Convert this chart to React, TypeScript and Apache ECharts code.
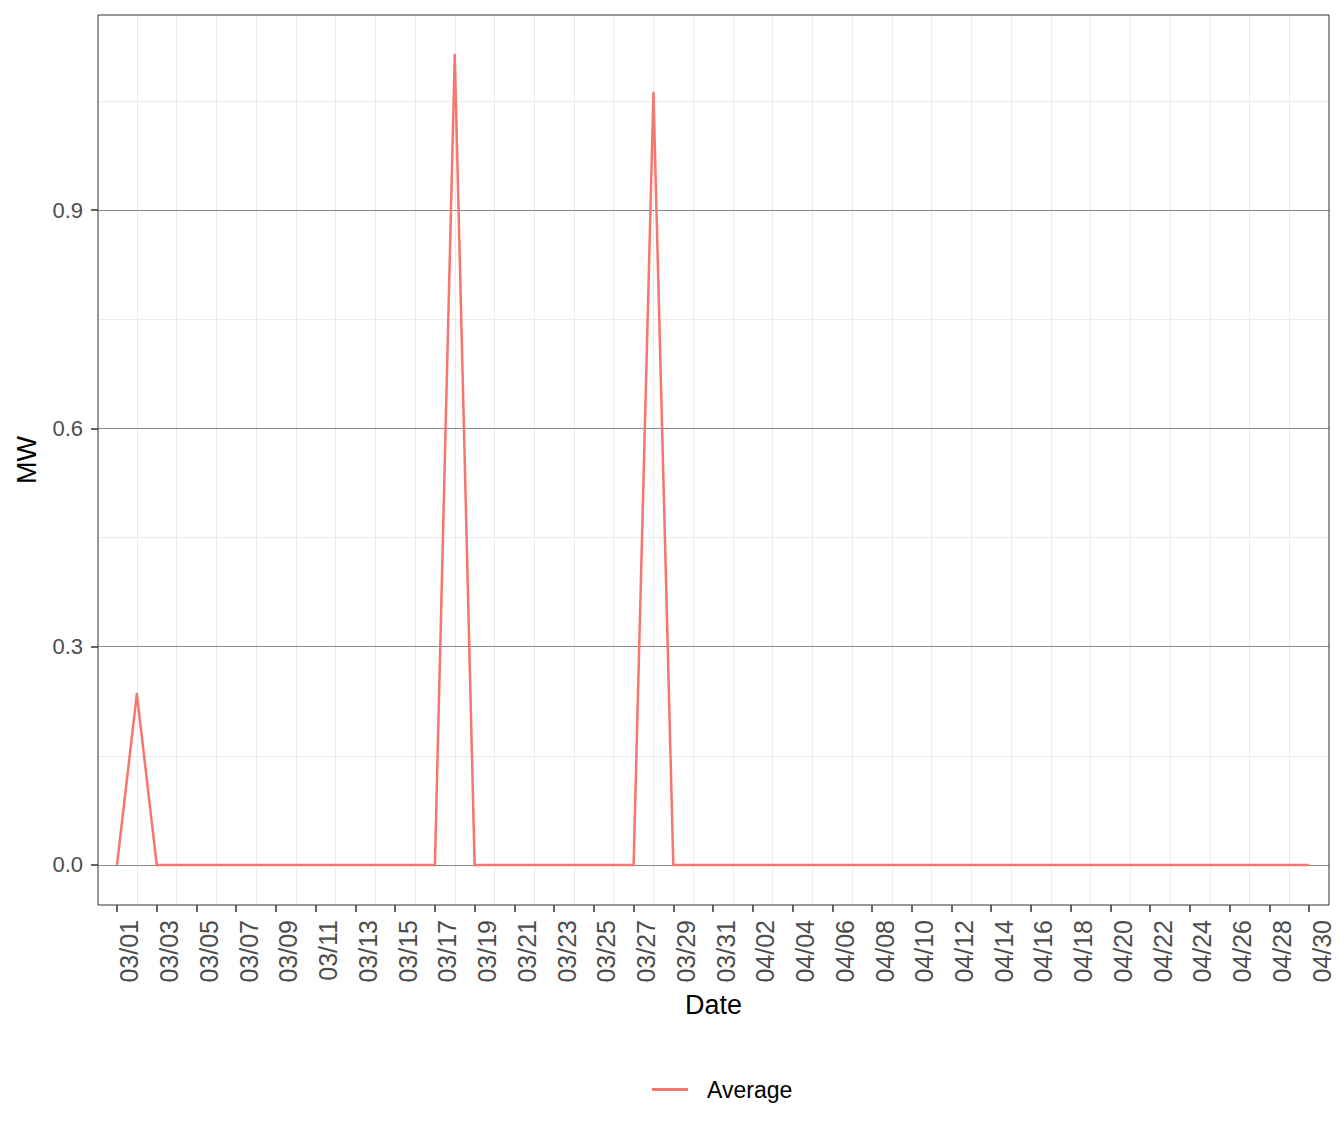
import React, { useEffect, useRef } from "react";
import * as echarts from "echarts";

const pad2 = (n: number) => (n < 10 ? "0" + n : "" + n);
// Date labels, 03/01 .. 04/30
const dates: string[] = [];
for (let d = 1; d <= 31; d++) dates.push("03/" + pad2(d));
for (let d = 1; d <= 30; d++) dates.push("04/" + pad2(d));

// Average MW per day (index into dates)
const average: number[] = [
  0, 0.235, 0, 0, 0, 0, 0, 0, 0, 0, 0, 0, 0, 0, 0, 0, 0,
  1.113, 0, 0, 0, 0, 0, 0, 0, 0, 0,
  1.061, 0, 0, 0, 0, 0, 0, 0, 0, 0, 0, 0, 0, 0, 0, 0, 0, 0, 0, 0, 0, 0, 0, 0, 0, 0, 0, 0, 0, 0, 0, 0, 0, 0,
];

const seriesName = "Average";
const yTicks: number[] = [0, 0.3, 0.6, 0.9];
const yMinorGrid: number[] = [0.15, 0.45, 0.75, 1.05];
const xTicks: number[] = [];
for (let i = 0; i <= 60; i += 2) xTicks.push(i);
const xMinorGrid: number[] = [];
for (let i = 1; i < 60; i += 2) xMinorGrid.push(i);

const FONT = "Liberation Sans, Arial, Helvetica, sans-serif";

export default function App() {
  const ref = useRef<HTMLDivElement>(null);
  useEffect(() => {
    if (!ref.current) return;
    const chart = echarts.init(ref.current, null, { renderer: "svg" });
    const seriesData = average.map((v, i) => [i, v]);
    chart.setOption({
      animation: false,
      backgroundColor: "#ffffff",
      textStyle: { fontFamily: FONT },
      grid: {
        left: 98,
        top: 15,
        right: 15,
        bottom: 237,
        show: true,
        borderColor: "#333333",
        borderWidth: 1,
        backgroundColor: "transparent",
        z: 10,
      },
      legend: {
        data: [{ name: seriesName, icon: "rect" }],
        left: 647,
        top: 1073,
        itemWidth: 36,
        itemHeight: 3,
        textStyle: {
          fontFamily: FONT,
          fontSize: 23,
          color: "#000000",
          padding: [0, 0, 0, 14],
        },
      },
      xAxis: {
        type: "value",
        min: -0.956,
        max: 61.0,
        name: "Date",
        nameLocation: "middle",
        nameGap: 86,
        nameTextStyle: { fontFamily: FONT, fontSize: 27, color: "#000000" },
        axisLine: { show: false, onZero: false },
        axisTick: {
          show: true,
          inside: false,
          length: 7,
          customValues: xTicks,
          lineStyle: { color: "#333333", width: 1.5 },
        },
        axisLabel: {
          show: true,
          customValues: xTicks,
          rotate: 90,
          margin: 15,
          fontFamily: FONT,
          fontSize: 25,
          color: "#4D4D4D",
          verticalAlign: "top",
          formatter: (v: number) => dates[Math.round(v)] ?? "",
        },
        splitLine: { show: false },
      },
      yAxis: {
        type: "value",
        min: -0.055,
        max: 1.168,
        name: "MW",
        nameLocation: "middle",
        nameGap: 58,
        nameTextStyle: { fontFamily: FONT, fontSize: 27, color: "#000000" },
        axisLine: { show: false, onZero: false },
        axisTick: {
          show: true,
          inside: false,
          length: 7,
          customValues: yTicks,
          lineStyle: { color: "#333333", width: 1.5 },
        },
        axisLabel: {
          show: true,
          customValues: yTicks,
          margin: 15,
          fontFamily: FONT,
          fontSize: 22,
          color: "#4D4D4D",
          formatter: (v: number) => v.toFixed(1),
        },
        splitLine: { show: false },
      },
      series: [
        {
          name: "grid",
          type: "line",
          data: [],
          silent: true,
          z: 1,
          markLine: {
            silent: true,
            symbol: ["none", "none"],
            label: { show: false },
            animation: false,
            data: [
              ...xMinorGrid.map((v) => ({ xAxis: v, lineStyle: { color: "#EBEBEB", width: 1, type: "solid" } })),
              ...yMinorGrid.map((v) => ({ yAxis: v, lineStyle: { color: "#EBEBEB", width: 1, type: "solid" } })),
              ...yTicks.map((v) => ({ yAxis: v, lineStyle: { color: "#8A8A8A", width: 1, type: "solid" } })),
            ],
          },
        },
        {
          name: seriesName,
          type: "line",
          data: seriesData,
          showSymbol: false,
          symbol: "none",
          z: 5,
          color: "#F8766D",
          lineStyle: { color: "#F8766D", width: 2.5, join: "round", cap: "butt" },
        },
      ],
    });
    return () => chart.dispose();
  }, []);
  return <div ref={ref} style={{ width: 1344, height: 1142, margin: -8 }} />;
}
